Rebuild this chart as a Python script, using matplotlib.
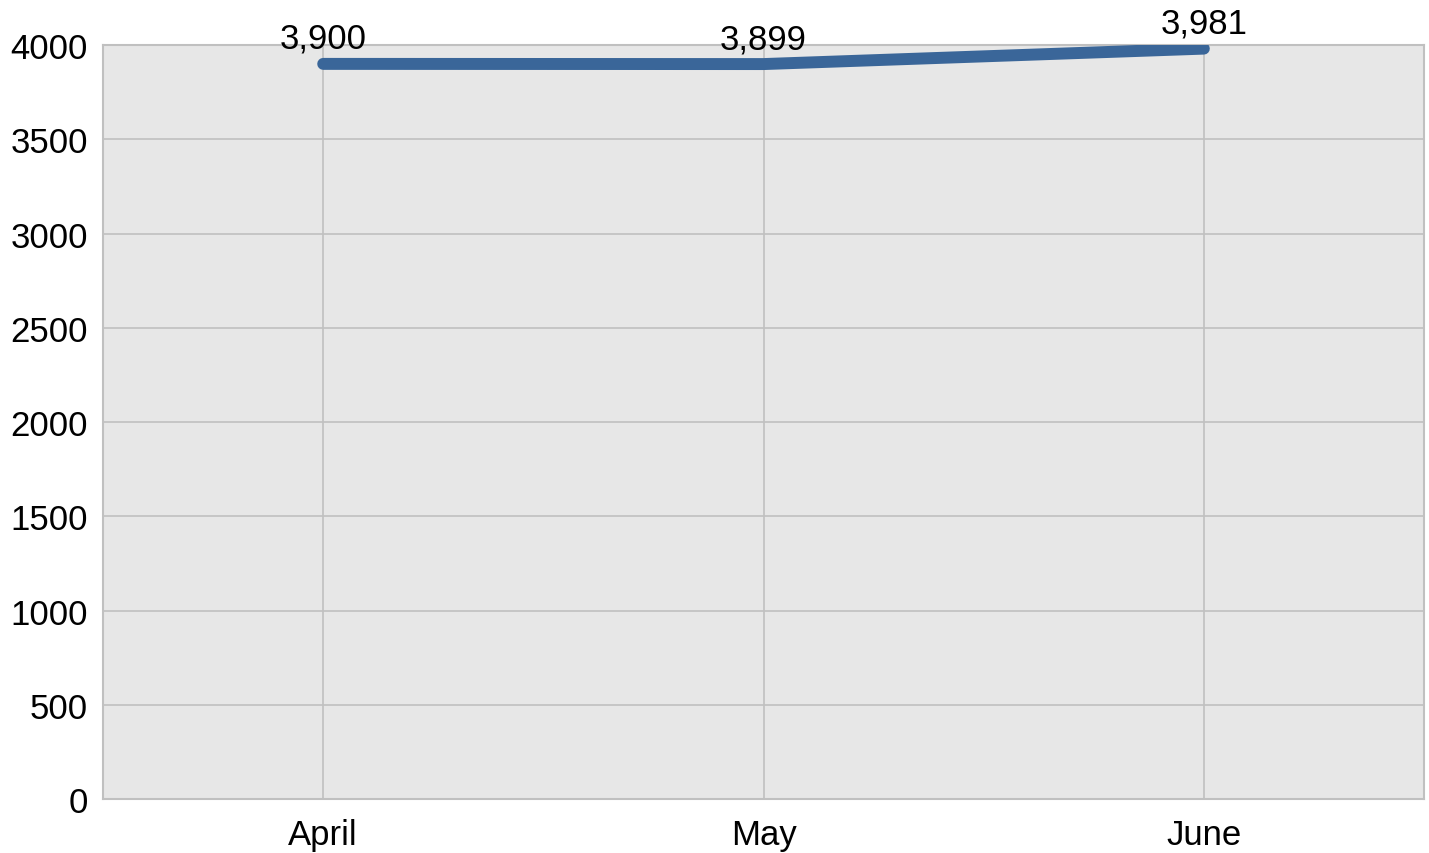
import matplotlib.pyplot as plt

months = ["April", "May", "June"]
values = [3900, 3899, 3981]
yticks = [0, 500, 1000, 1500, 2000, 2500, 3000, 3500, 4000]

plt.rcParams['font.family'] = ['Liberation Sans', 'DejaVu Sans']

fig = plt.figure(figsize=(14.29, 8.54), dpi=100)
ax = fig.add_axes([0.0721, 0.0632, 0.9244, 0.8829])
ax.set_facecolor('#e7e7e7')

x = list(range(len(months)))
ax.plot(x, values, color='#3a6699', linewidth=8.6, solid_capstyle='round', solid_joinstyle='round', zorder=3)

for xi, v in zip(x, values):
    ax.annotate(f"{v:,}", (xi, v), xytext=(0, 11.5), textcoords='offset points',
                ha='center', va='baseline', fontsize=25, color='black')

ax.set_xlim(-0.5, 2.5)
ax.set_ylim(0, 4000)
ax.set_xticks(x)
ax.set_xticklabels(months)
ax.set_yticks(yticks)
ax.grid(True, color='#c0c0c0', linewidth=1.2)
ax.set_axisbelow(True)
for s in ax.spines.values():
    s.set_color('#c0c0c0')
    s.set_linewidth(1.5)
ax.tick_params(axis='both', length=0, labelsize=25)
ax.tick_params(axis='y', pad=11)
ax.tick_params(axis='x', pad=14)

plt.savefig('out.png', dpi=100)
